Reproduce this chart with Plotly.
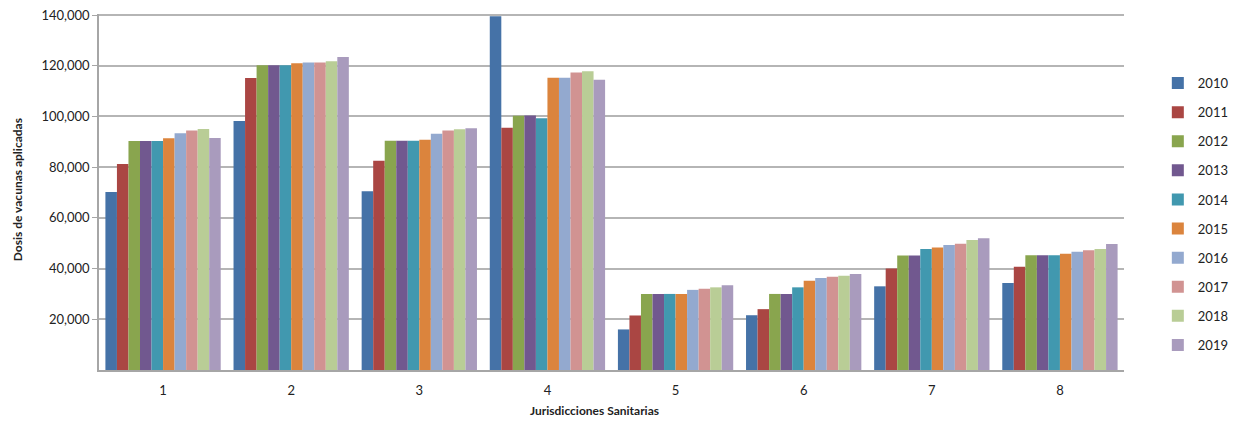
import plotly.graph_objects as go

categories = ["1", "2", "3", "4", "5", "6", "7", "8"]
years = ["2010", "2011", "2012", "2013", "2014", "2015", "2016", "2017", "2018", "2019"]

v2010 = [70200, 98200, 70500, 139500, 16000, 21600, 33000, 34300]
v2011 = [81200, 115200, 82500, 95500, 21500, 24000, 40000, 40700]
v2012 = [90300, 120200, 90400, 100300, 30000, 30000, 45200, 45300]
v2013 = [90300, 120200, 90400, 100400, 30000, 30000, 45200, 45300]
v2014 = [90300, 120200, 90400, 99300, 30000, 32600, 47700, 45300]
v2015 = [91400, 121000, 90800, 115300, 30000, 35200, 48300, 45800]
v2016 = [93400, 121300, 93200, 115300, 31600, 36300, 49300, 46600]
v2017 = [94500, 121300, 94500, 117300, 32000, 36800, 49800, 47200]
v2018 = [95000, 121800, 94900, 117800, 32600, 37200, 51300, 47700]
v2019 = [91500, 123400, 95300, 114500, 33400, 37900, 52000, 49700]

series = [v2010, v2011, v2012, v2013, v2014, v2015, v2016, v2017, v2018, v2019]
colors = ["#4572A7", "#AA4643", "#89A54E", "#71588F", "#4198AF",
          "#DB843D", "#93A9CF", "#D19392", "#B9CD96", "#A99BBD"]

ytick_vals = [20000, 40000, 60000, 80000, 100000, 120000, 140000]

fig = go.Figure()
for yr, vals, col in zip(years, series, colors):
    fig.add_trace(go.Bar(
        x=categories, y=vals, name=yr, legendgroup=yr,
        marker=dict(color=col, line=dict(width=0)),
    ))

font_family = "Lato, 'Open Sans', sans-serif"

fig.update_layout(
    width=1223, height=409,
    margin=dict(l=91, r=107, t=6, b=47, autoexpand=False),
    paper_bgcolor="white", plot_bgcolor="white",
    barmode="group", bargap=0.1, bargroupgap=0,
    font=dict(family=font_family, size=13, color="#222222"),
    showlegend=True,
    legend=dict(
        x=1.033, y=0.848, xanchor="left", yanchor="top",
        traceorder="grouped", tracegroupgap=9.2,
        font=dict(size=13, color="#222222"),
        itemwidth=30,
    ),
    xaxis=dict(
        showgrid=False, showline=True, linecolor="#A6A6A6", linewidth=1.5,
        ticks="", ticklabelstandoff=8, tickfont=dict(size=13),
        automargin=False,
    ),
    yaxis=dict(
        range=[0, 140400], tickvals=ytick_vals, tickformat=",d",
        showgrid=True, gridcolor="#B5B5B5", gridwidth=1.5,
        showline=True, linecolor="#A6A6A6", linewidth=1.5,
        ticks="outside", ticklen=5, tickcolor="#A6A6A6",
        tickfont=dict(size=13), zeroline=False, automargin=False,
        ticklabeloverflow="allow",
    ),
    annotations=[
        dict(text="<b>Dosis de vacunas aplicadas</b>", xref="paper", yref="paper",
             x=-0.08, y=0.505, xanchor="center", yanchor="middle", textangle=-90,
             showarrow=False, font=dict(size=12, color="#222222")),
        dict(text="<b>Jurisdicciones Sanitarias</b>", xref="paper", yref="paper",
             x=0.483, y=-0.115, xanchor="center", yanchor="middle",
             showarrow=False, font=dict(size=12, color="#222222")),
    ],
)

fig.write_html("out.html")
